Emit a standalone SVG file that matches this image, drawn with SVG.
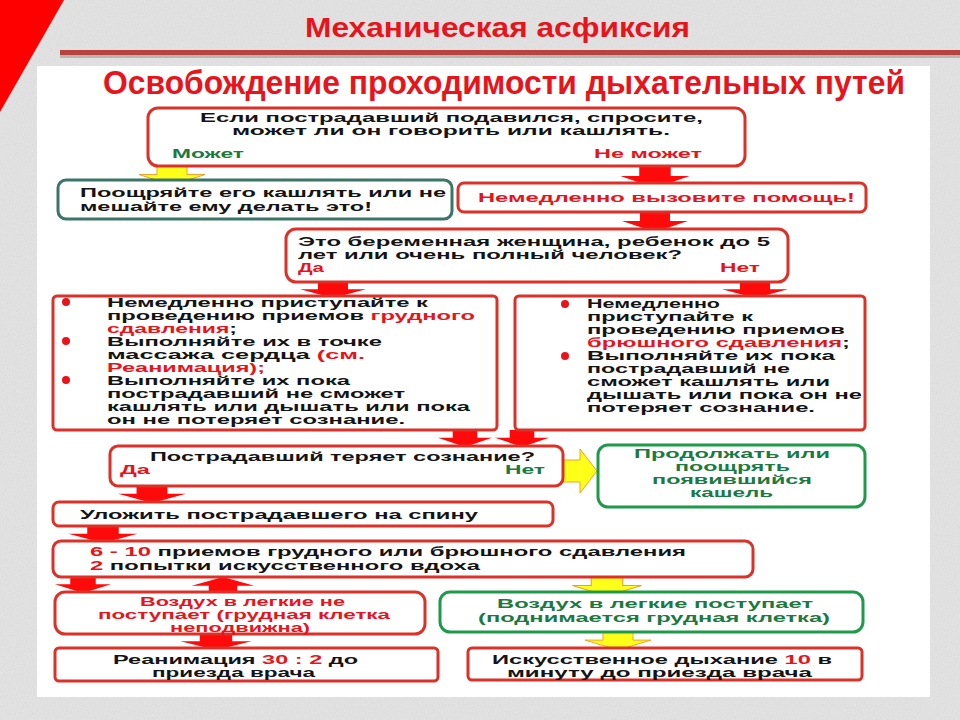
<svg xmlns="http://www.w3.org/2000/svg" xmlns:xlink="http://www.w3.org/1999/xlink" width="960" height="720" viewBox="0 0 960 720">
<defs>
<style>
.t{font-family:"Liberation Sans",Arial,sans-serif;font-weight:bold;font-size:12px;fill:#141414}
.r{fill:#e8141b}
.g{fill:#1b7a3f}
.box{fill:#fff;stroke:#dc3128;stroke-width:3}
.gbox{fill:#fff;stroke:#1f9a4a;stroke-width:3}
.tbox{fill:#fff;stroke:#3b7566;stroke-width:3}
.ra{fill:#ff0a0a}
.ya{fill:#ffff1a;stroke:#f0a020;stroke-width:1}
.ttl{font-family:"Liberation Sans",Arial,sans-serif;font-weight:bold;fill:#e8141b}
</style>
<filter id="noise" x="0" y="0" width="100%" height="100%">
<feTurbulence type="fractalNoise" baseFrequency="0.9" numOctaves="2" seed="3"/>
<feColorMatrix type="saturate" values="0"/>
</filter>
<path id="ad" d="M-15,0 H15 V9 H33 L0,20 L-33,9 H-15 Z"/>
</defs>
<rect width="960" height="720" fill="#e4e4e4"/>
<rect width="960" height="720" filter="url(#noise)" opacity="0.18"/>
<polygon points="0,0 64,0 0,112" fill="#ff0000"/>
<rect x="60" y="55" width="900" height="3" fill="#9a9a9a" opacity="0.6"/>
<rect x="60" y="50" width="900" height="5" fill="#b8433f"/>
<rect x="37" y="66" width="893" height="631" fill="#ffffff"/>
<text class="ttl" x="305" y="37" font-size="28" textLength="385" lengthAdjust="spacingAndGlyphs">Механическая асфиксия</text>
<text class="ttl" x="103" y="94" font-size="34" textLength="802" lengthAdjust="spacingAndGlyphs">Освобождение проходимости дыхательных путей</text>

<g id="connectors">
<use xlink:href="#ad" class="ya" transform="translate(172,166) scale(1,0.95)"/>
<use xlink:href="#ad" class="ra" transform="translate(655,166) scale(1.05,1.1)"/>
<use xlink:href="#ad" class="ra" transform="translate(655,212) scale(1,1)"/>
<use xlink:href="#ad" class="ra" transform="translate(333,282) scale(1,0.8)"/>
<use xlink:href="#ad" class="ra" transform="translate(755,282) scale(1,0.8)"/>
<use xlink:href="#ad" class="ra" transform="translate(465,430) scale(0.82,0.85)"/>
<use xlink:href="#ad" class="ra" transform="translate(522,430) scale(0.82,0.85)"/>
<path class="ya" d="M563,460 H580 V449 L597,471 L580,493 V482 H563 Z"/>
<use xlink:href="#ad" class="ra" transform="translate(152,486) scale(1.03,0.85)"/>
<use xlink:href="#ad" class="ra" transform="translate(103,526) scale(1.05,0.85)"/>
<use xlink:href="#ad" class="ra" transform="translate(83,577) scale(0.85,0.8)"/>
<use xlink:href="#ad" class="ra" transform="translate(223,593) scale(0.95,-0.8)"/>
<use xlink:href="#ad" class="ya" transform="translate(607,577) scale(1.05,0.95)"/>
<use xlink:href="#ad" class="ra" transform="translate(216,634) scale(1.08,0.8)"/>
<use xlink:href="#ad" class="ya" transform="translate(618,632) scale(1,0.9)"/>
</g>

<g id="n1">
<rect class="box" x="148" y="108" width="597" height="58" rx="10"/>
<text class="t" x="200" y="122" textLength="503" lengthAdjust="spacingAndGlyphs">Если пострадавший подавился, спросите,</text>
<text class="t" x="232" y="135" textLength="438" lengthAdjust="spacingAndGlyphs">может ли он говорить или кашлять.</text>
<text class="t g" x="172" y="158" textLength="72" lengthAdjust="spacingAndGlyphs">Может</text>
<text class="t r" x="594" y="158" textLength="108" lengthAdjust="spacingAndGlyphs">Не может</text>
</g>
<g id="n2">
<rect class="tbox" x="58" y="180" width="394" height="39" rx="8"/>
<text class="t" x="80" y="197" textLength="366" lengthAdjust="spacingAndGlyphs">Поощряйте его кашлять или не</text>
<text class="t" x="80" y="211" textLength="292" lengthAdjust="spacingAndGlyphs">мешайте ему делать это!</text>
</g>
<g id="n3">
<rect class="box" x="458" y="183" width="408" height="29" rx="6"/>
<text class="t r" x="478" y="202" textLength="377" lengthAdjust="spacingAndGlyphs">Немедленно вызовите помощь!</text>
</g>
<g id="n4">
<rect class="box" x="286" y="229" width="502" height="53" rx="10"/>
<text class="t" x="298" y="246" textLength="472" lengthAdjust="spacingAndGlyphs">Это беременная женщина, ребенок до 5</text>
<text class="t" x="298" y="259" textLength="384" lengthAdjust="spacingAndGlyphs">лет или очень полный человек?</text>
<text class="t r" x="298" y="272" textLength="26" lengthAdjust="spacingAndGlyphs">Да</text>
<text class="t r" x="720" y="272" textLength="40" lengthAdjust="spacingAndGlyphs">Нет</text>
</g>
<g id="n5">
<rect class="box" x="53" y="296" width="444" height="134" rx="4"/>
<circle class="r" cx="66" cy="302" r="4"/>
<circle class="r" cx="66" cy="341" r="4"/>
<circle class="r" cx="66" cy="380" r="4"/>
<text class="t" x="107" y="307" textLength="321" lengthAdjust="spacingAndGlyphs">Немедленно приступайте к</text>
<text class="t" x="107" y="320" textLength="368" lengthAdjust="spacingAndGlyphs">проведению приемов <tspan class="r">грудного</tspan></text>
<text class="t" x="107" y="333" textLength="130" lengthAdjust="spacingAndGlyphs"><tspan class="r">сдавления</tspan>;</text>
<text class="t" x="107" y="346" textLength="275" lengthAdjust="spacingAndGlyphs">Выполняйте их в точке</text>
<text class="t" x="107" y="359" textLength="258" lengthAdjust="spacingAndGlyphs">массажа сердца <tspan class="r">(см.</tspan></text>
<text class="t r" x="107" y="372" textLength="158" lengthAdjust="spacingAndGlyphs">Реанимация);</text>
<text class="t" x="107" y="385" textLength="243" lengthAdjust="spacingAndGlyphs">Выполняйте их пока</text>
<text class="t" x="107" y="398" textLength="298" lengthAdjust="spacingAndGlyphs">пострадавший не сможет</text>
<text class="t" x="107" y="411" textLength="363" lengthAdjust="spacingAndGlyphs">кашлять или дышать или пока</text>
<text class="t" x="107" y="424" textLength="298" lengthAdjust="spacingAndGlyphs">он не потеряет сознание.</text>
</g>
<g id="n6">
<rect class="box" x="515" y="296" width="350" height="134" rx="4"/>
<circle class="r" cx="565" cy="304" r="4"/>
<circle class="r" cx="565" cy="356" r="4"/>
<text class="t" x="587" y="308" textLength="133" lengthAdjust="spacingAndGlyphs">Немедленно</text>
<text class="t" x="587" y="321" textLength="166" lengthAdjust="spacingAndGlyphs">приступайте к</text>
<text class="t" x="587" y="334" textLength="258" lengthAdjust="spacingAndGlyphs">проведению приемов</text>
<text class="t" x="587" y="347" textLength="263" lengthAdjust="spacingAndGlyphs"><tspan class="r">брюшного сдавления</tspan>;</text>
<text class="t" x="587" y="360" textLength="248" lengthAdjust="spacingAndGlyphs">Выполняйте их пока</text>
<text class="t" x="587" y="373" textLength="203" lengthAdjust="spacingAndGlyphs">пострадавший не</text>
<text class="t" x="587" y="386" textLength="243" lengthAdjust="spacingAndGlyphs">сможет кашлять или</text>
<text class="t" x="587" y="399" textLength="275" lengthAdjust="spacingAndGlyphs">дышать или пока он не</text>
<text class="t" x="587" y="412" textLength="228" lengthAdjust="spacingAndGlyphs">потеряет сознание.</text>
</g>
<g id="n7">
<rect class="box" x="110" y="446" width="453" height="40" rx="8"/>
<text class="t" x="150" y="461" textLength="385" lengthAdjust="spacingAndGlyphs">Пострадавший теряет сознание?</text>
<text class="t r" x="120" y="474" textLength="30" lengthAdjust="spacingAndGlyphs">Да</text>
<text class="t g" x="505" y="474" textLength="40" lengthAdjust="spacingAndGlyphs">Нет</text>
</g>
<g id="n8">
<rect class="gbox" x="598" y="445" width="267" height="62" rx="10"/>
<text class="t g" x="634" y="458" textLength="196" lengthAdjust="spacingAndGlyphs">Продолжать или</text>
<text class="t g" x="675" y="471" textLength="115" lengthAdjust="spacingAndGlyphs">поощрять</text>
<text class="t g" x="652" y="484" textLength="160" lengthAdjust="spacingAndGlyphs">появившийся</text>
<text class="t g" x="690" y="497" textLength="83" lengthAdjust="spacingAndGlyphs">кашель</text>
</g>
<g id="n9">
<rect class="box" x="53" y="502" width="500" height="24" rx="6"/>
<text class="t" x="80" y="519" textLength="398" lengthAdjust="spacingAndGlyphs">Уложить пострадавшего на спину</text>
</g>
<g id="n10">
<rect class="box" x="53" y="541" width="700" height="36" rx="8"/>
<text class="t" x="90" y="556" textLength="596" lengthAdjust="spacingAndGlyphs"><tspan class="r">6 - 10</tspan> приемов грудного или брюшного сдавления</text>
<text class="t" x="90" y="570" textLength="390" lengthAdjust="spacingAndGlyphs"><tspan class="r">2</tspan> попытки искусственного вдоха</text>
</g>
<g id="n11">
<rect class="box" x="55" y="592" width="370" height="42" rx="10"/>
<text class="t r" x="140" y="606" textLength="205" lengthAdjust="spacingAndGlyphs">Воздух в легкие не</text>
<text class="t r" x="98" y="619" textLength="292" lengthAdjust="spacingAndGlyphs">поступает (грудная клетка</text>
<text class="t r" x="170" y="632" textLength="140" lengthAdjust="spacingAndGlyphs">неподвижна)</text>
</g>
<g id="n12">
<rect class="gbox" x="440" y="592" width="423" height="40" rx="10"/>
<text class="t g" x="497" y="608" textLength="316" lengthAdjust="spacingAndGlyphs">Воздух в легкие поступает</text>
<text class="t g" x="478" y="622" textLength="352" lengthAdjust="spacingAndGlyphs">(поднимается грудная клетка)</text>
</g>
<g id="n13">
<rect class="box" x="55" y="648" width="383" height="33" rx="4"/>
<text class="t" x="113" y="664" textLength="245" lengthAdjust="spacingAndGlyphs">Реанимация <tspan class="r">30 : 2</tspan> до</text>
<text class="t" x="152" y="677" textLength="163" lengthAdjust="spacingAndGlyphs">приезда врача</text>
</g>
<g id="n14">
<rect class="box" x="468" y="648" width="394" height="32" rx="4"/>
<text class="t" x="492" y="664" textLength="340" lengthAdjust="spacingAndGlyphs">Искусственное дыхание <tspan class="r">10</tspan> в</text>
<text class="t" x="507" y="677" textLength="305" lengthAdjust="spacingAndGlyphs">минуту до приезда врача</text>
</g>
</svg>
